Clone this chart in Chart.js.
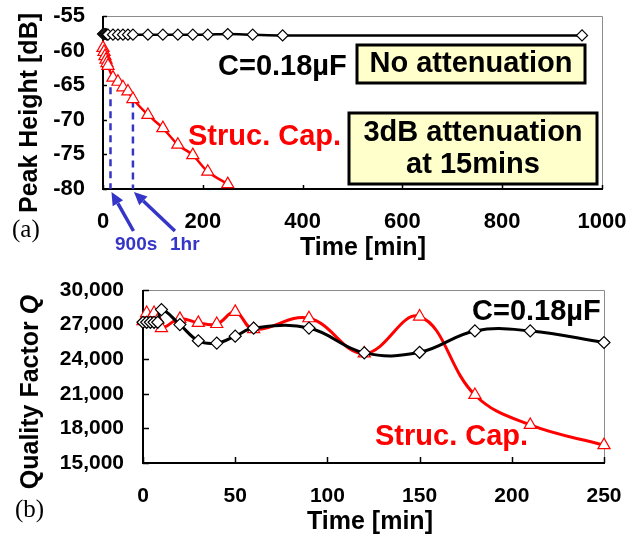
<!DOCTYPE html>
<html><head><meta charset="utf-8">
<script src="https://cdn.jsdelivr.net/npm/chart.js@4/dist/chart.umd.min.js"></script>
<style>
html,body{margin:0;padding:0;background:#fff;width:639px;height:538px;overflow:hidden}
canvas{position:absolute;left:0}
#ca{top:0}
#cb{top:262px}
</style></head><body>
<canvas id="ca" width="639" height="262" style="width:639px;height:262px"></canvas>
<canvas id="cb" width="639" height="276" style="width:639px;height:276px"></canvas>
<script>
// ---------- (a) Peak height vs time ----------
const timeA_C = [0,2,4,6,8,10,20,30,40,50,60,90,120,150,180,210,250,300,360,960];
const peakC   = [-57.6,-57.6,-57.6,-57.6,-57.7,-57.7,-57.7,-57.7,-57.7,-57.7,-57.7,-57.7,-57.7,-57.7,-57.7,-57.7,-57.6,-57.7,-57.8,-57.8];
const timeA_S = [0,2,4,6,8,10,20,30,40,50,60,90,120,150,180,210,250];
const peakS   = [-59.6,-60.2,-60.8,-61.3,-61.8,-62.2,-63.9,-64.5,-65.3,-65.9,-67.0,-69.3,-71.2,-73.6,-75.1,-77.5,-79.3];
const markTimes = [15, 60];          // 900 s and 1 hr
const markTops  = [-65.3, -67.2];
const markLabels = ['900s', '1hr'];
const yTicksA = [-80,-75,-70,-65,-60,-55];
const xTicksA = [0,200,400,600,800,1000];

// ---------- (b) Quality factor vs time ----------
const timeB = [0,2,4,6,8,10,20,30,40,50,60,90,120,150,180,210,250];
const qC    = [27200,27200,27200,27200,27200,28300,27000,25600,25400,26000,26700,26700,24550,24600,26450,26450,25450];
const qS    = [27300,28000,27500,28000,27400,26700,27500,27150,27050,28100,26600,27550,24500,27700,20900,18300,16550];
const yTicksB = [15000,18000,21000,24000,27000,30000];
const xTicksB = [0,50,100,150,200,250];

const SANS = '"Liberation Sans", Arial, sans-serif';
const SERIF = '"Liberation Serif", "Times New Roman", serif';
const RED = '#ff0000', BLUE = '#3535c8', BOX = '#ffffcc';

Chart.defaults.font.family = SANS;
Chart.defaults.font.weight = 'bold';
Chart.defaults.color = '#000';

const pts = (xs, ys) => xs.map((v, i) => ({x: v, y: ys[i]}));

function txt(ctx, s, x, y, size, color, align, family, style) {
  ctx.font = (style || 'bold') + ' ' + size + 'px ' + (family || SANS);
  ctx.fillStyle = color || '#000';
  ctx.textAlign = align || 'left';
  ctx.textBaseline = 'middle';
  ctx.fillText(s, x, y);
}
function box(ctx, x, y, w, h) {
  ctx.fillStyle = BOX; ctx.fillRect(x, y, w, h);
  ctx.strokeStyle = '#000'; ctx.lineWidth = 3; ctx.strokeRect(x, y, w, h);
}
function arrow(ctx, x1, y1, x2, y2) {
  const ang = Math.atan2(y2 - y1, x2 - x1), L = 13, W = 6;
  const bx = x2 - L * Math.cos(ang), by = y2 - L * Math.sin(ang);
  ctx.strokeStyle = BLUE; ctx.fillStyle = BLUE; ctx.lineWidth = 3.5;
  ctx.beginPath(); ctx.moveTo(x1, y1); ctx.lineTo(bx, by); ctx.stroke();
  ctx.beginPath();
  ctx.moveTo(x2, y2);
  ctx.lineTo(bx + W * Math.sin(ang), by - W * Math.cos(ang));
  ctx.lineTo(bx - W * Math.sin(ang), by + W * Math.cos(ang));
  ctx.closePath(); ctx.fill();
}

function frame(tickLen) {
  return {
    id: 'frame',
    beforeDatasetsDraw(chart) {
      const {ctx, chartArea: a, scales: {x, y}} = chart;
      ctx.save();
      ctx.strokeStyle = '#8c8c8c'; ctx.lineWidth = 1;
      ctx.beginPath(); ctx.moveTo(a.left, a.top + 0.5); ctx.lineTo(a.right + 0.5, a.top + 0.5); ctx.lineTo(a.right + 0.5, a.bottom); ctx.stroke();
      ctx.strokeStyle = '#000'; ctx.lineWidth = 2;
      ctx.beginPath(); ctx.moveTo(a.left, a.top); ctx.lineTo(a.left, a.bottom); ctx.lineTo(a.right + 1, a.bottom); ctx.stroke();
      ctx.lineWidth = 1.5;
      y.ticks.forEach(t => { const p = Math.round(y.getPixelForValue(t.value)) + 0.5; ctx.beginPath(); ctx.moveTo(a.left, p); ctx.lineTo(a.left + tickLen, p); ctx.stroke(); });
      x.ticks.forEach(t => { const p = Math.round(x.getPixelForValue(t.value)) + 0.5; ctx.beginPath(); ctx.moveTo(p, a.bottom); ctx.lineTo(p, a.bottom - tickLen); ctx.stroke(); });
      ctx.restore();
    }
  };
}

function scales(xMin, xMax, xTicks, yMin, yMax, yTicks, yW, xH, fontSize, yPad, xPad, fmtX, fmtY) {
  return {
    x: {
      type: 'linear', min: xMin, max: xMax,
      afterBuildTicks: s => { s.ticks = xTicks.map(v => ({value: v})); },
      afterFit: s => { s.height = xH; s.paddingLeft = 0; s.paddingRight = 0; s.paddingTop = 0; s.paddingBottom = 0; },
      grid: {display: false, drawTicks: false}, border: {display: false},
      ticks: {autoSkip: false, maxRotation: 0, padding: xPad, font: {size: fontSize, weight: 'bold'}, color: '#000', callback: fmtX}
    },
    y: {
      type: 'linear', min: yMin, max: yMax,
      afterBuildTicks: s => { s.ticks = yTicks.map(v => ({value: v})); },
      afterFit: s => { s.width = yW; s.paddingLeft = 0; s.paddingRight = 0; s.paddingTop = 0; s.paddingBottom = 0; },
      grid: {display: false, drawTicks: false}, border: {display: false},
      ticks: {padding: yPad, font: {size: fontSize, weight: 'bold'}, color: '#000', callback: fmtY}
    }
  };
}

// ---------------- Chart (a) ----------------
const dashSets = markTimes.map((t, i) => ({
  data: [{x: t, y: markTops[i]}, {x: t, y: -80}],
  borderColor: BLUE, borderWidth: 2.5, borderDash: [7, 5], pointRadius: 0, tension: 0, clip: false
}));

new Chart(document.getElementById('ca'), {
  type: 'line',
  data: {datasets: [
    {label: 'C=0.18µF', data: pts(timeA_C, peakC), borderColor: '#000', borderWidth: 2.5,
     pointStyle: 'rectRot', pointRadius: 5.5, pointBackgroundColor: '#fff', pointBorderColor: '#000', pointBorderWidth: 1.2,
     tension: 0.3, clip: false},
    {label: 'Struc. Cap.', data: pts(timeA_S, peakS), borderColor: RED, borderWidth: 2.5,
     pointStyle: 'triangle', pointRadius: 7, pointBackgroundColor: '#fff', pointBorderColor: RED, pointBorderWidth: 1.2,
     tension: 0.3, clip: false},
    ...dashSets
  ]},
  options: {
    responsive: false, animation: false, devicePixelRatio: 1,
    layout: {padding: {top: 16, right: 37, left: 0, bottom: 0}},
    plugins: {legend: {display: false}, tooltip: {enabled: false}},
    scales: scales(0, 1000, xTicksA, -80, -55, yTicksA, 103, 73, 22, 18, 20, v => String(v), v => String(v))
  },
  plugins: [frame(4), {
    id: 'annA',
    afterDraw(chart) {
      const {ctx, chartArea: a, scales: {x}} = chart;
      ctx.save();
      txt(ctx, 'C=0.18µF', 218, 67, 29, '#000');
      box(ctx, 357, 45, 228, 38);
      txt(ctx, 'No attenuation', 471, 64, 29, '#000', 'center');
      txt(ctx, 'Struc. Cap.', 188, 137, 29, RED);
      box(ctx, 349, 113, 248, 71);
      txt(ctx, '3dB attenuation', 473, 133, 29, '#000', 'center');
      txt(ctx, 'at 15mins', 473, 165, 29, '#000', 'center');
      const tails = [23, 42];
      markTimes.forEach((t, i) => {
        const px = x.getPixelForValue(t);
        arrow(ctx, px + tails[i], a.bottom + 42, px + 1, a.bottom + 3);
      });
      txt(ctx, markLabels[0], 115, 245, 19, BLUE);
      txt(ctx, markLabels[1], 170, 245, 19, BLUE);
      txt(ctx, '(a)', 12, 230, 25, '#000', 'left', SERIF, 'normal');
      txt(ctx, 'Time [min]', 363, 248, 25, '#000', 'center');
      ctx.translate(30, 113); ctx.rotate(-Math.PI / 2);
      txt(ctx, 'Peak Height [dB]', 0, 0, 25, '#000', 'center');
      ctx.restore();
    }
  }]
});

// ---------------- Chart (b) ----------------
new Chart(document.getElementById('cb'), {
  type: 'line',
  data: {datasets: [
    {label: 'C=0.18µF', data: pts(timeB, qC), borderColor: '#000', borderWidth: 3,
     pointStyle: 'rectRot', pointRadius: 6, pointBackgroundColor: '#fff', pointBorderColor: '#000', pointBorderWidth: 1.2,
     tension: 0.4, clip: false},
    {label: 'Struc. Cap.', data: pts(timeB, qS), borderColor: RED, borderWidth: 3,
     pointStyle: 'triangle', pointRadius: 7, pointBackgroundColor: '#fff', pointBorderColor: RED, pointBorderWidth: 1.2,
     tension: 0.4, clip: false}
  ]},
  options: {
    responsive: false, animation: false, devicePixelRatio: 1,
    layout: {padding: {top: 28, right: 35, left: 0, bottom: 0}},
    plugins: {legend: {display: false}, tooltip: {enabled: false}},
    scales: scales(0, 250, xTicksB, 15000, 30000, yTicksB, 143, 75, 21, 19, 21, v => String(v), v => Number(v).toLocaleString('en-US'))
  },
  plugins: [frame(6), {
    id: 'annB',
    afterDraw(chart) {
      const {ctx} = chart;
      ctx.save();
      txt(ctx, 'C=0.18µF', 472, 50, 29, '#000');
      txt(ctx, 'Struc. Cap.', 375, 175, 29, RED);
      txt(ctx, '(b)', 15, 248, 25, '#000', 'left', SERIF, 'normal');
      txt(ctx, 'Time [min]', 370, 260, 25, '#000', 'center');
      ctx.translate(31, 130); ctx.rotate(-Math.PI / 2);
      ctx.font = 'bold 25px ' + SANS;
      const w1 = ctx.measureText('Quality Factor ').width;
      ctx.font = 'italic bold 25px ' + SANS;
      const w2 = ctx.measureText('Q').width;
      const x0 = -(w1 + w2) / 2;
      txt(ctx, 'Quality Factor ', x0, 0, 25, '#000', 'left');
      txt(ctx, 'Q', x0 + w1, 0, 25, '#000', 'left', SANS, 'italic bold');
      ctx.restore();
    }
  }]
});
</script>
</body></html>
